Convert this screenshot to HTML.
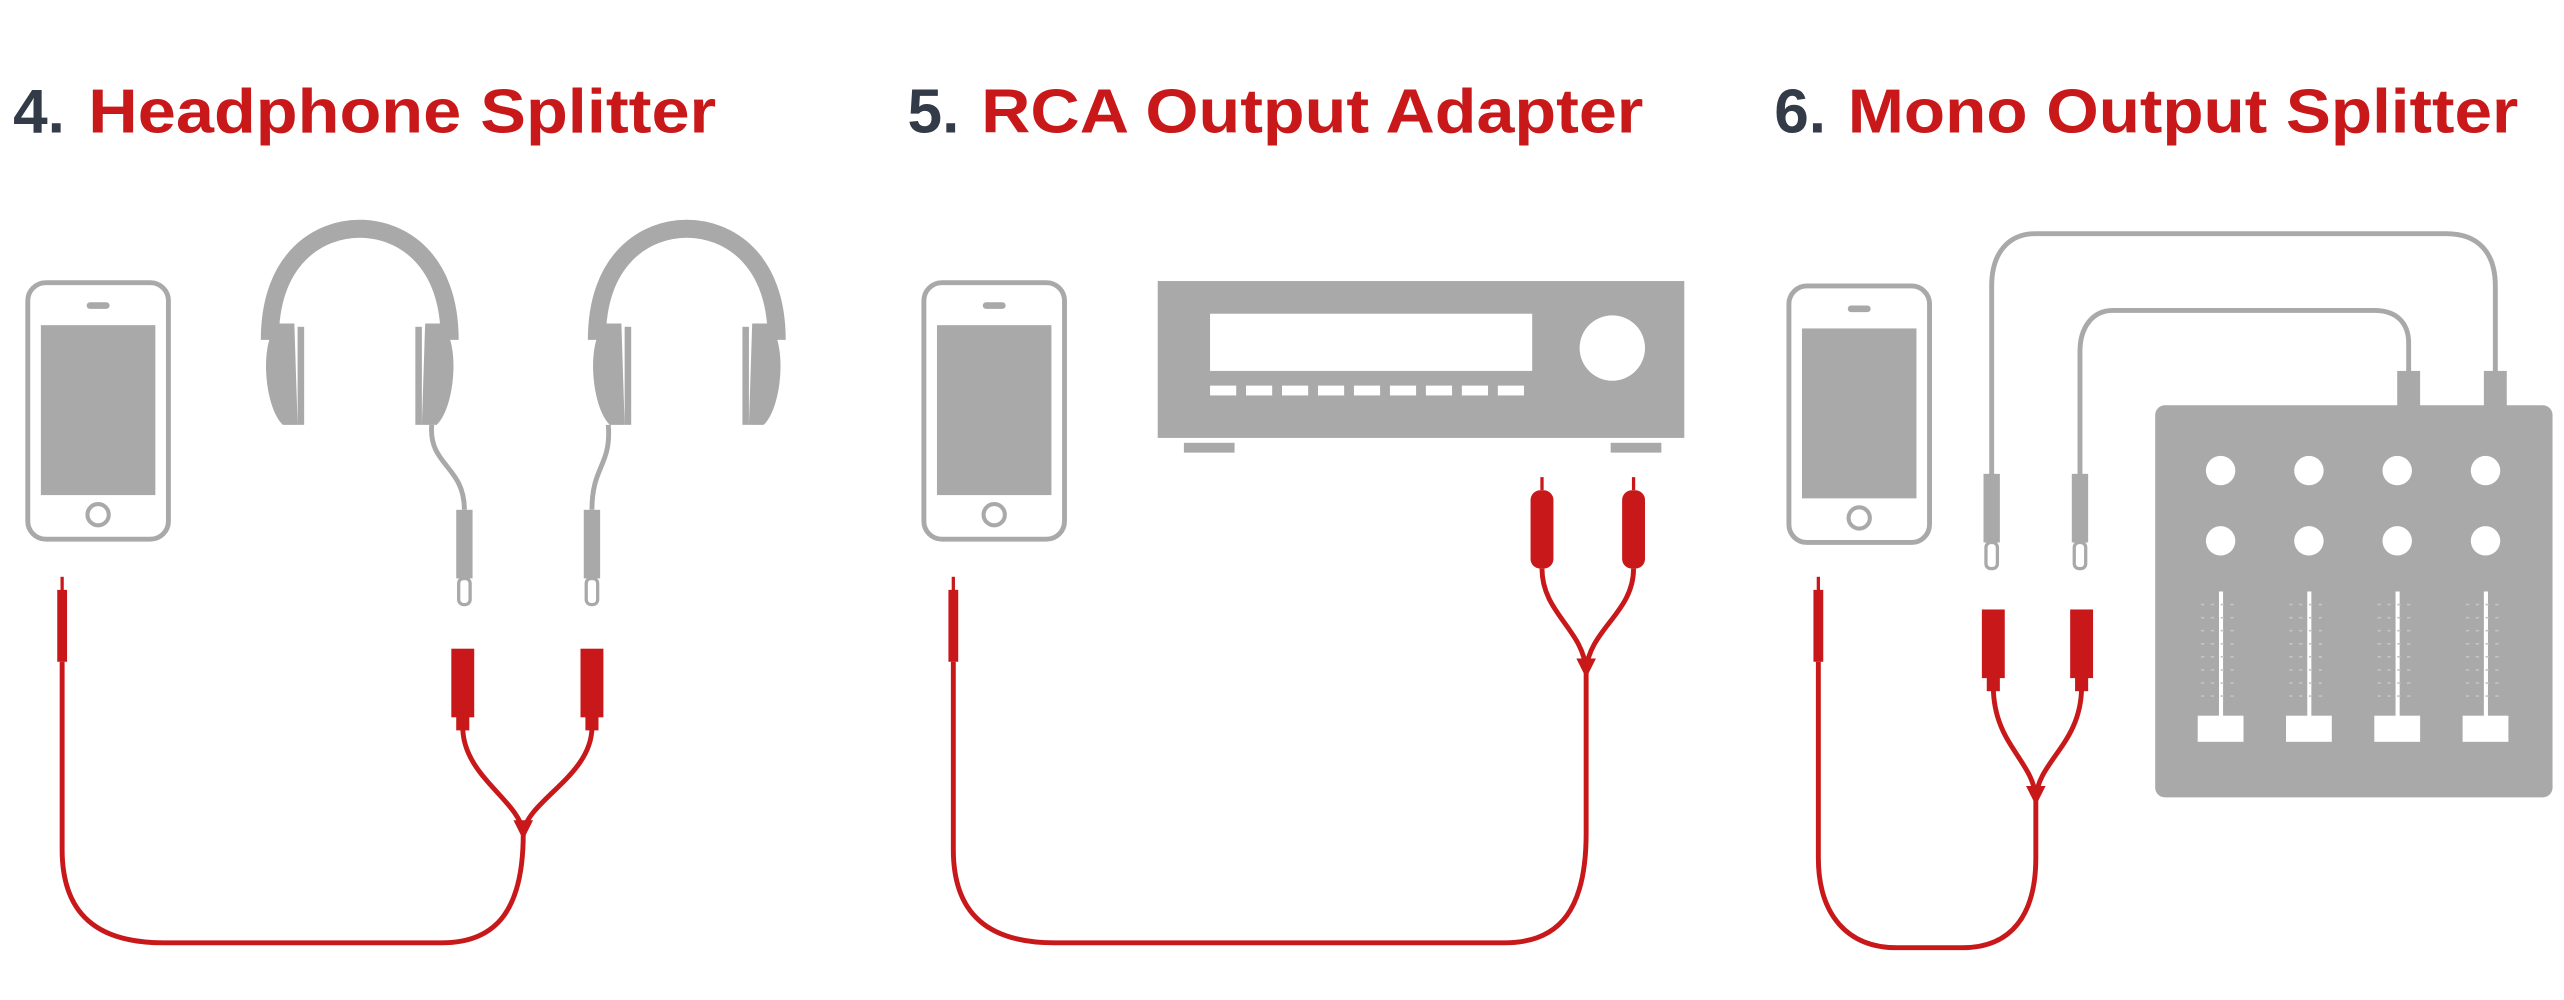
<!DOCTYPE html>
<html><head><meta charset="utf-8"><style>
html,body{margin:0;padding:0;background:#fff;width:2564px;height:1000px;overflow:hidden}
svg{display:block}
</style></head><body>
<svg width="2564" height="1000" viewBox="0 0 1568 612" preserveAspectRatio="none" xmlns="http://www.w3.org/2000/svg">
<defs>
<g id="phone">
<rect x="0" y="0" width="86" height="157" rx="11" fill="none" stroke="#a9a9a9" stroke-width="3"/>
<rect x="8" y="26" width="70" height="104" fill="#a9a9a9"/>
<rect x="36" y="12" width="14" height="4" rx="2" fill="#a9a9a9"/>
<circle cx="43" cy="142" r="6.5" fill="none" stroke="#a9a9a9" stroke-width="2.5"/>
</g>
<g id="jack">
<line x1="0" y1="0" x2="0" y2="10" stroke="#c8181a" stroke-width="2"/>
<rect x="-3" y="8" width="6" height="44" fill="#c8181a"/>
</g>
<g id="fem">
<rect x="-7" y="0" width="14" height="42" fill="#c8181a"/>
<rect x="-4" y="40" width="8" height="10" fill="#c8181a"/>
</g>
<g id="gplug">
<rect x="-5" y="0" width="10" height="42" fill="#a9a9a9"/>
<rect x="-3.5" y="42" width="7" height="16" rx="3" fill="none" stroke="#a9a9a9" stroke-width="2"/>
</g>
<g id="hp">
<path d="M-55 60 C-55 10 -25 -8 0 -8 C25 -8 55 10 55 60" fill="none" stroke="#a9a9a9" stroke-width="11"/>
<path d="M-50 50 L-40 50 L-38 112 L-47 112 C-58 102 -62 62 -50 50Z" fill="#a9a9a9"/>
<rect x="-38" y="52" width="4" height="60" fill="#a9a9a9"/>
<path d="M50 50 L40 50 L38 112 L47 112 C58 102 62 62 50 50Z" fill="#a9a9a9"/>
<rect x="34" y="52" width="4" height="60" fill="#a9a9a9"/>
</g>
</defs>

<g font-family="Liberation Sans, Arial, sans-serif" font-weight="bold" font-size="38">
<text x="8" y="81" fill="#333a48">4.</text>
<text x="54" y="81" fill="#c8181a" textLength="384" lengthAdjust="spacingAndGlyphs">Headphone Splitter</text>
<text x="555" y="81" fill="#333a48">5.</text>
<text x="600" y="81" fill="#c8181a" textLength="405" lengthAdjust="spacingAndGlyphs">RCA Output Adapter</text>
<text x="1085" y="81" fill="#333a48">6.</text>
<text x="1130" y="81" fill="#c8181a" textLength="410" lengthAdjust="spacingAndGlyphs">Mono Output Splitter</text>
</g>

<!-- Section 1 -->
<use href="#phone" x="17" y="173"/>
<use href="#hp" transform="translate(220,148)"/>
<use href="#hp" transform="translate(420,148)"/>
<path d="M264 260 C262 285 284 285 284 312" fill="none" stroke="#a9a9a9" stroke-width="3"/>
<path d="M372 260 C374 285 362 285 362 312" fill="none" stroke="#a9a9a9" stroke-width="3"/>
<use href="#gplug" x="284" y="312"/>
<use href="#gplug" x="362" y="312"/>
<use href="#jack" x="38" y="353"/>
<path d="M38 405 L38 520 C38 560 60 577 100 577 L270 577 C305 577 320 555 320 510" fill="none" stroke="#c8181a" stroke-width="3"/>
<path d="M283 445 C283 475 318 490 320 510 M362 445 C362 475 322 490 320 510" fill="none" stroke="#c8181a" stroke-width="3"/>
<path d="M314 502 L326 502 L320 514Z" fill="#c8181a"/>
<use href="#fem" x="283" y="397"/>
<use href="#fem" x="362" y="397"/>

<!-- Section 2 -->
<use href="#phone" x="565" y="173"/>
<rect x="708" y="172" width="322" height="96" fill="#a9a9a9"/>
<rect x="740" y="192" width="197" height="35" fill="#fff"/>
<circle cx="986" cy="213" r="20" fill="#fff"/>
<g fill="#fff">
<rect x="740" y="236" width="16" height="6"/><rect x="762" y="236" width="16" height="6"/><rect x="784" y="236" width="16" height="6"/><rect x="806" y="236" width="16" height="6"/><rect x="828" y="236" width="16" height="6"/><rect x="850" y="236" width="16" height="6"/><rect x="872" y="236" width="16" height="6"/><rect x="894" y="236" width="16" height="6"/><rect x="916" y="236" width="16" height="6"/>
</g>
<rect x="724" y="271" width="31" height="6" fill="#a9a9a9"/>
<rect x="985" y="271" width="31" height="6" fill="#a9a9a9"/>
<g fill="#c8181a">
<rect x="942" y="292" width="2" height="8"/><rect x="936" y="300" width="14" height="48" rx="6"/>
<rect x="998" y="292" width="2" height="8"/><rect x="992" y="300" width="14" height="48" rx="6"/>
</g>
<path d="M943 348 C943 375 968 385 970 410 M999 348 C999 375 972 385 970 410" fill="none" stroke="#c8181a" stroke-width="3"/>
<path d="M964 403 L976 403 L970 415Z" fill="#c8181a"/>
<use href="#jack" x="583" y="353"/>
<path d="M583 405 L583 520 C583 560 605 577 645 577 L920 577 C955 577 970 555 970 510 L970 410" fill="none" stroke="#c8181a" stroke-width="3"/>

<!-- Section 3 -->
<use href="#phone" x="1094" y="175"/>
<rect x="1318" y="248" width="243" height="240" rx="6" fill="#a9a9a9"/>
<g fill="#fff">
<circle cx="1358" cy="288" r="9"/><circle cx="1412" cy="288" r="9"/><circle cx="1466" cy="288" r="9"/><circle cx="1520" cy="288" r="9"/>
<circle cx="1358" cy="331" r="9"/><circle cx="1412" cy="331" r="9"/><circle cx="1466" cy="331" r="9"/><circle cx="1520" cy="331" r="9"/>
<rect x="1357" y="362" width="2.5" height="80"/><rect x="1411" y="362" width="2.5" height="80"/><rect x="1465" y="362" width="2.5" height="80"/><rect x="1519" y="362" width="2.5" height="80"/>
<rect x="1344" y="438" width="28" height="16"/><rect x="1398" y="438" width="28" height="16"/><rect x="1452" y="438" width="28" height="16"/><rect x="1506" y="438" width="28" height="16"/>
</g>
<g stroke="#c4c4c4" stroke-width="1" stroke-dasharray="2 4">
<path d="M1346 370 H1370 M1346 378 H1370 M1346 386 H1370 M1346 394 H1370 M1346 402 H1370 M1346 410 H1370 M1346 418 H1370 M1346 426 H1370"/>
<path d="M1400 370 H1424 M1400 378 H1424 M1400 386 H1424 M1400 394 H1424 M1400 402 H1424 M1400 410 H1424 M1400 418 H1424 M1400 426 H1424"/>
<path d="M1454 370 H1478 M1454 378 H1478 M1454 386 H1478 M1454 394 H1478 M1454 402 H1478 M1454 410 H1478 M1454 418 H1478 M1454 426 H1478"/>
<path d="M1508 370 H1532 M1508 378 H1532 M1508 386 H1532 M1508 394 H1532 M1508 402 H1532 M1508 410 H1532 M1508 418 H1532 M1508 426 H1532"/>
</g>
<rect x="1466" y="227" width="14" height="22" fill="#a9a9a9"/>
<rect x="1519" y="227" width="14" height="22" fill="#a9a9a9"/>
<path d="M1526 228 L1526 175 C1526 155 1516 143 1496 143 L1245 143 C1228 143 1218 155 1218 175 L1218 292" fill="none" stroke="#a9a9a9" stroke-width="3"/>
<path d="M1473 228 L1473 210 C1473 198 1466 190 1452 190 L1292 190 C1280 190 1272 200 1272 215 L1272 292" fill="none" stroke="#a9a9a9" stroke-width="3"/>
<use href="#gplug" x="1218" y="290"/>
<use href="#gplug" x="1272" y="290"/>
<use href="#fem" x="1219" y="373"/>
<use href="#fem" x="1273" y="373"/>
<path d="M1219 420 C1219 455 1243 465 1245 488 M1273 420 C1273 455 1247 465 1245 488" fill="none" stroke="#c8181a" stroke-width="3"/>
<path d="M1239 481 L1251 481 L1245 493Z" fill="#c8181a"/>
<use href="#jack" x="1112" y="353"/>
<path d="M1112 405 L1112 525 C1112 560 1130 580 1160 580 L1200 580 C1230 580 1245 560 1245 525 L1245 488" fill="none" stroke="#c8181a" stroke-width="3"/>
</svg>
</body></html>
